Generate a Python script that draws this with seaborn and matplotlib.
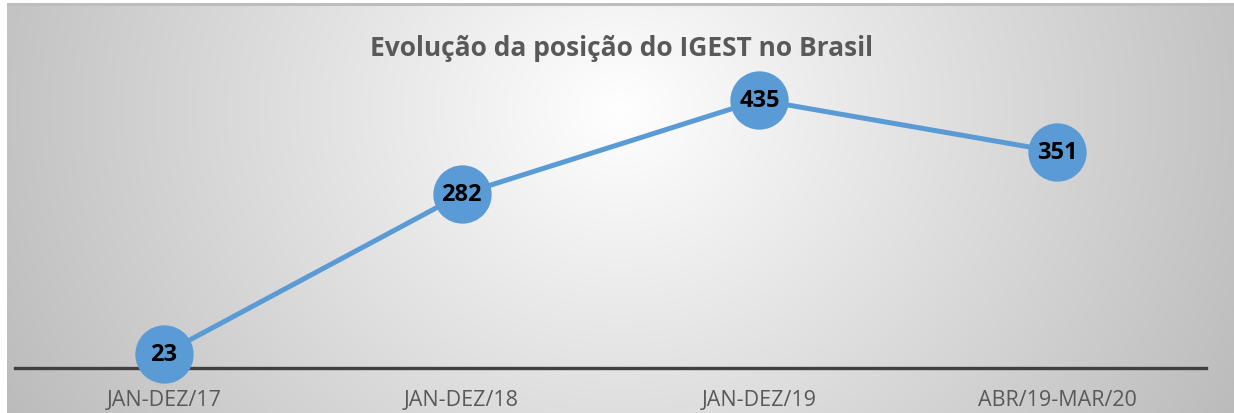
import numpy as np
import pandas as pd
import seaborn as sns
from matplotlib import pyplot as plt

periodos = ["JAN-DEZ/17", "JAN-DEZ/18", "JAN-DEZ/19", "ABR/19-MAR/20"]
posicoes = [23, 282, 435, 351]

sns.set_theme(style="white")
plt.rcParams['font.family'] = ['Open Sans', 'DejaVu Sans']

fig = plt.figure(figsize=(12.34, 4.14), dpi=100, facecolor="white")

# radial gradient background
bg = fig.add_axes([7 / 1234, 0, 1227 / 1234, 410 / 414])
xx, yy = np.meshgrid(np.arange(7, 1234), np.arange(4, 414))
d = np.sqrt(((xx - 620) / 620.0) ** 2 + ((yy - 110) / 560.0) ** 2)
gray = (255 - 60 * np.clip(d, 0, 1.2)) / 255.0
bg.imshow(np.dstack([gray, gray, gray]), aspect="auto", interpolation="bilinear")
bg.axhline(0, color="#bdbdbd", lw=2.2)
bg.set_axis_off()

df = pd.DataFrame({"periodo": periodos, "posicao": posicoes})

ax = fig.add_axes([15 / 1234, 45 / 414, 1191 / 1234, 308 / 414])
ax.patch.set_alpha(0)
sns.lineplot(data=df, x="periodo", y="posicao", ax=ax, color="#5B9BD5",
             linewidth=3.6, marker="o", markersize=42, markeredgewidth=0,
             sort=False)
for ln in ax.lines:
    ln.set_clip_on(False)
    ln.set_zorder(3)
for p, v in zip(periodos, posicoes):
    ax.text(p, v, str(v), ha="center", va="center", fontsize=17,
            fontweight="bold", color="black", zorder=5)

ax.set_xlim(-0.5, 3.5)
ax.set_ylim(0, 500)
ax.set_xlabel("")
ax.set_ylabel("")
ax.set_yticks([])
for s in ["top", "left", "right"]:
    ax.spines[s].set_visible(False)
ax.spines["bottom"].set_color("#404040")
ax.spines["bottom"].set_linewidth(2.4)
ax.spines["bottom"].set_zorder(1)
ax.tick_params(axis="x", length=0, pad=15, labelsize=15.5, labelcolor="#595959")

fig.text(621 / 1234, 1 - 48 / 414, "Evolução da posição do IGEST no Brasil",
         ha="center", va="center", fontsize=19, fontweight="bold", color="#595959")

fig.savefig("out.png", dpi=100, facecolor="white")
